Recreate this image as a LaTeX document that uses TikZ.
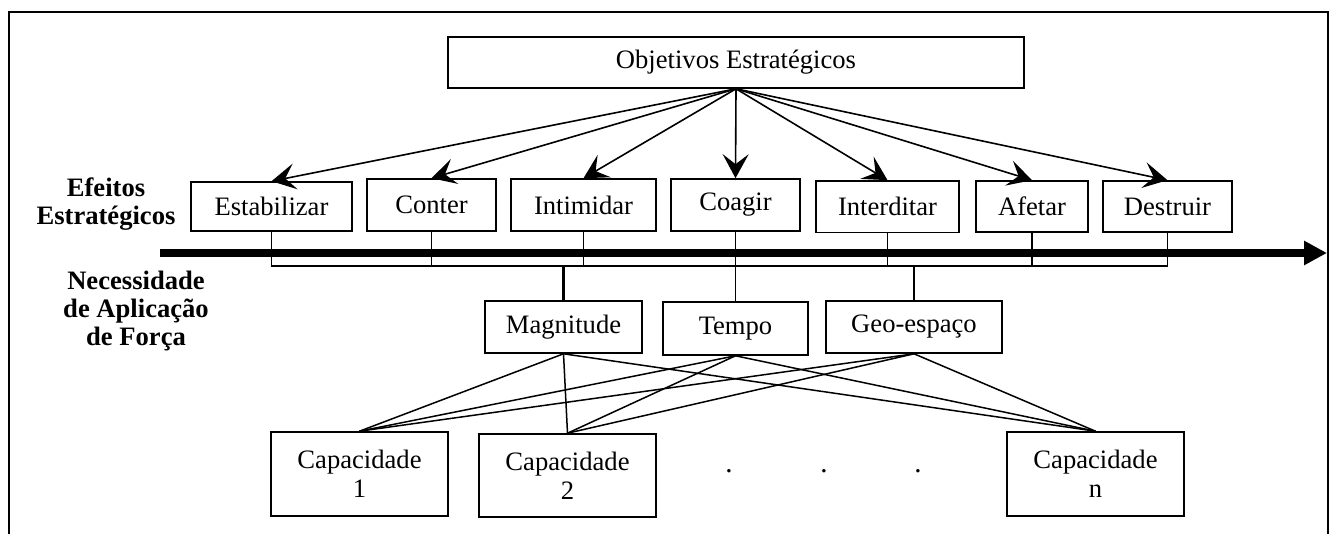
\documentclass[tikz,border=0pt]{standalone}
\usepackage{fontspec}
\setmainfont{Liberation Serif}
\usetikzlibrary{arrows.meta}
\begin{document}
\begin{tikzpicture}[x=0.5pt,y=-0.5pt,
  box/.style={draw,line width=0.8pt,inner sep=0pt,align=center,font=\fontsize{13.3}{14.5}\selectfont},
  lbl/.style={inner sep=0pt,align=center,font=\fontsize{13.3}{14}\selectfont\bfseries},
  conn/.style={line width=0.75pt},
  arr/.style={line width=0.8pt,-{Stealth[length=12pt,width=13pt,inset=5pt]}},
  dotnode/.style={inner sep=0pt,font=\fontsize{14.5}{15}\selectfont},
]
\useasboundingbox (0,0) rectangle (1332,534);
% frame
\coordinate (fBL) at (9,534);
\coordinate (fTL) at (9,12);
\coordinate (fTR) at (1328,12);
\coordinate (fBR) at (1328,534);
\draw[line width=0.8pt] (fBL) -- (fTL) -- (fTR) -- (fBR);

% nodes
\node[box,minimum width=288pt,minimum height=25.5pt] (obj) at (736,62.5) {Objetivos Estratégicos};

\node[box,minimum width=80.5pt,minimum height=24.5pt] (estab) at (271.5,206.5) {Estabilizar};
\node[box,minimum width=64.5pt,minimum height=26pt] (conter) at (431.5,205) {Conter};
\node[box,minimum width=72.5pt,minimum height=26pt] (intim) at (583.5,205) {Intimidar};
\node[box,minimum width=64.5pt,minimum height=26pt] (coagir) at (735.5,205) {Coagir};
\node[box,minimum width=71.5pt,minimum height=25.75pt] (interd) at (887.5,206.7) {Interditar};
\node[box,minimum width=56pt,minimum height=25.5pt] (afetar) at (1032,206.5) {Afetar};
\node[box,minimum width=64.5pt,minimum height=25.5pt] (destr) at (1167.5,206.5) {Destruir};

\node[box,minimum width=78.5pt,minimum height=26pt] (mag) at (563.5,327) {Magnitude};
\node[box,minimum width=72.5pt,minimum height=26.5pt] (tempo) at (735.5,328.5) {Tempo};
\node[box,minimum width=88pt,minimum height=26pt] (geo) at (914,327) {Geo-espaço};

\node[box,minimum width=88.5pt,minimum height=42pt] (cap1) at (359.5,474) {Capacidade\\1};
\node[box,minimum width=88.5pt,minimum height=41.5pt] (cap2) at (567.5,475.5) {Capacidade\\2};
\node[box,minimum width=88.5pt,minimum height=42pt] (capn) at (1095.5,474) {Capacidade\\n};

\node[dotnode] (d1) at (729,471) {.};
\node[dotnode] (d2) at (824,471) {.};
\node[dotnode] (d3) at (918,471) {.};

\node[lbl] (efe) at (106,204) {Efeitos\\Estratégicos};
\node[lbl] (nec) at (136,311) {Necessidade\\de Aplicação\\de Força};

% arrows from objectives
\foreach \t in {estab,conter,intim,coagir,interd,afetar,destr}
  \draw[arr] (obj.south) -- (\t.north);

% thick axis arrow
\coordinate (axS) at (160,253);
\coordinate (axE) at (1327,253);
\draw[line width=4pt,-{Triangle[length=11.5pt,width=11.5pt]}] (axS) -- (axE);

% bus
\coordinate (bus) at (0,266);
\draw[conn] (estab.south) |- (destr.south |- bus) -- (destr.south);
\foreach \t in {conter,intim,interd,afetar}
  \draw[conn] (\t.south) -- (\t.south |- bus);
\draw[conn] (coagir.south) -- (tempo.north);
\draw[line width=1.2pt] (mag.north) -- (mag.north |- bus);
\draw[conn] (geo.north) -- (geo.north |- bus);

% links to capacities
\foreach \s in {mag,tempo,geo}
  \foreach \t in {cap1,cap2,capn}
    \draw[conn] (\s.south) -- (\t.north);
\end{tikzpicture}
\end{document}
